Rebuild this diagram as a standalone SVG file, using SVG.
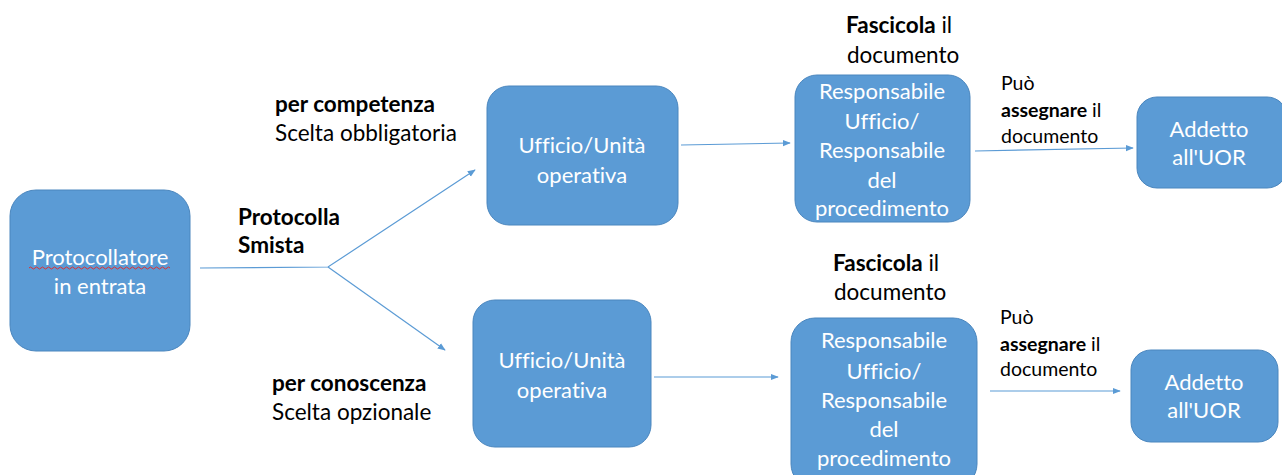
<svg xmlns="http://www.w3.org/2000/svg" width="1282" height="475" viewBox="0 0 1282 475">
<defs>
<marker id="ah" viewBox="0 0 10 10" refX="9" refY="5" markerWidth="8" markerHeight="8" markerUnits="userSpaceOnUse" orient="auto">
<path d="M0,1 L10,5 L0,9 z" fill="#5B9BD5"/>
</marker>
<style>
text{font-variant-ligatures:none;font-feature-settings:"liga" 0,"clig" 0}
.box{fill:#5B9BD5;stroke:#4A86BE;stroke-width:1}
.bt{font-family:Lato,"Open Sans",sans-serif;font-size:22px;fill:#ffffff;text-anchor:middle}
.lb{font-family:Lato,"Open Sans",sans-serif;font-size:22.5px;fill:#000000}
.sm{font-family:Lato,"Open Sans",sans-serif;font-size:19.5px;fill:#000000}
.b{font-weight:bold}
.cn{fill:none;stroke:#5B9BD5;stroke-width:1.2}
</style>
</defs>
<rect width="1282" height="475" fill="#ffffff"/>
<g id="connectors">
<polyline class="cn" points="200,268 328,267 475,170" marker-end="url(#ah)"/>
<polyline class="cn" points="328,267 445,350" marker-end="url(#ah)"/>
<line class="cn" x1="681" y1="145" x2="790" y2="143" marker-end="url(#ah)"/>
<line class="cn" x1="654" y1="377" x2="778" y2="377" marker-end="url(#ah)"/>
<line class="cn" x1="975" y1="151" x2="1133" y2="148" marker-end="url(#ah)"/>
<line class="cn" x1="990" y1="391" x2="1120" y2="391" marker-end="url(#ah)"/>
</g>
<g id="labels">
<text class="lb b" x="238" y="225">Protocolla</text>
<text class="lb b" x="238" y="253">Smista</text>
<text class="lb b" x="275" y="112">per competenza</text>
<text class="lb" x="275" y="141">Scelta obbligatoria</text>
<text class="lb b" x="272" y="391">per conoscenza</text>
<text class="lb" x="272" y="420">Scelta opzionale</text>
<text class="lb" x="846" y="33"><tspan class="b">Fascicola</tspan> il</text>
<text class="lb" x="847" y="63">documento</text>
<text class="lb" x="833" y="271"><tspan class="b">Fascicola</tspan> il</text>
<text class="lb" x="834" y="300">documento</text>
<text class="sm" x="1001" y="90">Può</text>
<text class="sm" x="1001" y="117"><tspan class="b">assegnare</tspan> il</text>
<text class="sm" x="1001" y="143">documento</text>
<text class="sm" x="1000" y="324">Può</text>
<text class="sm" x="1000" y="351"><tspan class="b">assegnare</tspan> il</text>
<text class="sm" x="1000" y="376">documento</text>
</g>
<g id="protocollatore">
<rect class="box" x="10" y="190" width="180" height="161" rx="26"/>
<text class="bt" x="100" y="265">Protocollatore</text>
<text class="bt" x="100" y="294">in entrata</text>
<path d="M29,268 q1.5,-2 3,0 t3,0 t3,0 t3,0 t3,0 t3,0 t3,0 t3,0 t3,0 t3,0 t3,0 t3,0 t3,0 t3,0 t3,0 t3,0 t3,0 t3,0 t3,0 t3,0 t3,0 t3,0 t3,0 t3,0 t3,0 t3,0 t3,0 t3,0 t3,0 t3,0 t3,0 t3,0 t3,0 t3,0 t3,0 t3,0 t3,0 t3,0 t3,0 t3,0 t3,0 t3,0 t3,0 t3,0 t3,0 t3,0 t3,0" fill="none" stroke="#E03030" stroke-width="1"/>
</g>
<g id="ufficio-competenza">
<rect class="box" x="487" y="86" width="191" height="139" rx="22"/>
<text class="bt" x="582" y="153">Ufficio/Unità</text>
<text class="bt" x="582" y="183">operativa</text>
</g>
<g id="ufficio-conoscenza">
<rect class="box" x="473" y="300" width="178" height="147" rx="22"/>
<text class="bt" x="562" y="368">Ufficio/Unità</text>
<text class="bt" x="562" y="398">operativa</text>
</g>
<g id="responsabile-competenza">
<rect class="box" x="795" y="75" width="175" height="147" rx="22"/>
<text class="bt" x="882" y="99">Responsabile</text>
<text class="bt" x="882" y="129">Ufficio/</text>
<text class="bt" x="882" y="158">Responsabile</text>
<text class="bt" x="882" y="188">del</text>
<text class="bt" x="882" y="216">procedimento</text>
</g>
<g id="responsabile-conoscenza">
<rect class="box" x="791" y="318" width="186" height="170" rx="24"/>
<text class="bt" x="884" y="348">Responsabile</text>
<text class="bt" x="884" y="379">Ufficio/</text>
<text class="bt" x="884" y="408">Responsabile</text>
<text class="bt" x="884" y="437">del</text>
<text class="bt" x="884" y="466">procedimento</text>
</g>
<g id="addetto-competenza">
<rect class="box" x="1137" y="97" width="150" height="91" rx="20"/>
<text class="bt" x="1209" y="137">Addetto</text>
<text class="bt" x="1209" y="165">all'UOR</text>
</g>
<g id="addetto-conoscenza">
<rect class="box" x="1131" y="350" width="147" height="92" rx="20"/>
<text class="bt" x="1204" y="390">Addetto</text>
<text class="bt" x="1204" y="418">all'UOR</text>
</g>
</svg>
